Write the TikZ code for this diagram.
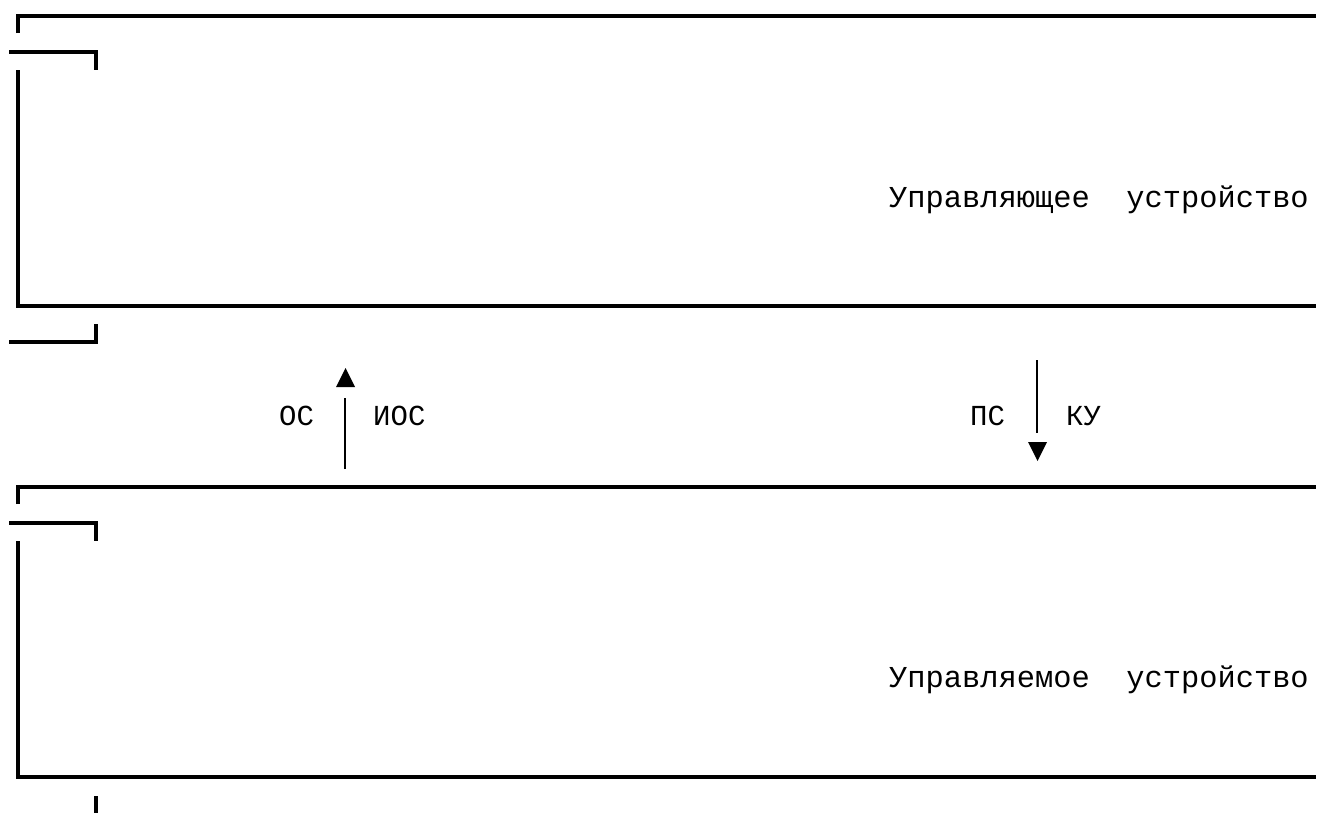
\documentclass[tikz,border=0pt]{standalone}
\usepackage{fontspec}
\setmainfont{Liberation Mono}
\begin{document}
\begin{tikzpicture}[x=1pt,y=-1pt,
  frame/.style={line width=3.4pt,line join=miter,line cap=butt},
  stem/.style={line width=2.6pt},
  tip/.style={fill=black,draw=none},
  lbl/.style={inner sep=0pt,anchor=base west,font=\fontsize{30.4}{36}\selectfont},
  sm/.style={inner sep=0pt,anchor=base west,font=\fontsize{29}{34}\selectfont}]
\useasboundingbox (0,0) rectangle (1335,812);
% upper box
\draw[frame] (18,33) -- (18,16) -- (1316,16);
\draw[frame] (9,52) -- (96,52) -- (96,70);
\draw[frame] (18,70) -- (18,306) -- (1316,306);
\draw[frame] (9,342) -- (96,342) -- (96,324);
\node[lbl] (ctrl) at (889,207) {Управляющее\ \ устройство};
% lower box
\draw[frame] (18,504) -- (18,487) -- (1316,487);
\draw[frame] (9,523) -- (96,523) -- (96,541);
\draw[frame] (18,541) -- (18,777) -- (1316,777);
\draw[frame] (96,796) -- (96,815);
\node[lbl] (plant) at (889,687) {Управляемое\ \ устройство};
% feedback arrow (up)
\coordinate (fbA) at (345,469);
\coordinate (fbB) at (345,398);
\draw[stem] (fbA) -- (fbB);
\fill[tip] (336,387) -- (355,387) -- (345.5,368) -- cycle;
\node[sm] (os) at (279,425) {ОС};
\node[sm] (ios) at (373,425) {ИОС};
% control arrow (down)
\coordinate (cA) at (1037,360);
\coordinate (cB) at (1037,433);
\draw[stem] (cA) -- (cB);
\fill[tip] (1028,442) -- (1047,442) -- (1037.5,461) -- cycle;
\node[sm] (ps) at (970,425) {ПС};
\node[sm] (ku) at (1066,425) {КУ};
\end{tikzpicture}
\end{document}
